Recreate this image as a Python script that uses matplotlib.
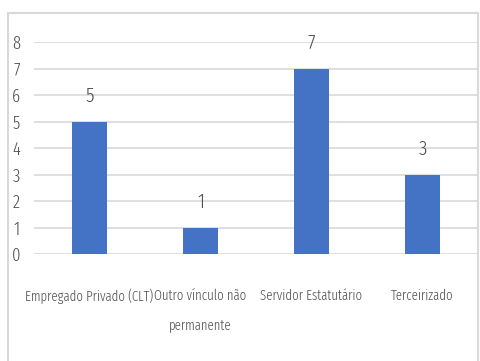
import matplotlib
matplotlib.use("Agg")
import matplotlib.pyplot as plt
from matplotlib.patches import Rectangle

categories = ["Empregado Privado (CLT)", "Outro vínculo não\npermanente",
              "Servidor Estatutário", "Terceirizado"]
values = [5, 1, 7, 3]
y_ticks = [0, 1, 2, 3, 4, 5, 6, 7, 8]

plt.rcParams["font.family"] = ["Fira Sans Extra Condensed", "Barlow Condensed",
                               "PT Sans Narrow", "DejaVu Sans"]
plt.rcParams["font.weight"] = 300

text_color = "#505050"
grid_color = "#d9d9d9"
bar_color = "#4472c4"

fig = plt.figure(figsize=(4.8, 3.61), dpi=100)
# chart-area border
fig.patches.append(Rectangle((8 / 480, -0.05), 470 / 480, 1.05 - 13 / 361,
                             transform=fig.transFigure, fill=False,
                             edgecolor=grid_color, linewidth=1.5))

ax = fig.add_axes([34 / 480, 1 - 254 / 361, 444 / 480, 212 / 361])
x = range(len(categories))
ax.bar(x, values, width=0.315, color=bar_color, zorder=3)
for xi, v in zip(x, values):
    ax.text(xi, v + 0.97, str(v), ha="center", va="center",
            fontsize=15, color=text_color)

ax.set_xlim(-0.5, 3.5)
ax.set_ylim(0, 8)
ax.set_yticks(y_ticks)
ax.set_xticks(list(x))
ax.set_xticklabels(categories, fontsize=10, color=text_color, linespacing=2.4, va="top")
ax.tick_params(axis="x", length=0, pad=25)
ax.tick_params(axis="y", length=0, labelsize=13, labelcolor=text_color, pad=10)
ax.grid(axis="y", color=grid_color, linewidth=1.2, zorder=0)
for s in ax.spines.values():
    s.set_visible(False)

fig.savefig("out.png", dpi=100)
